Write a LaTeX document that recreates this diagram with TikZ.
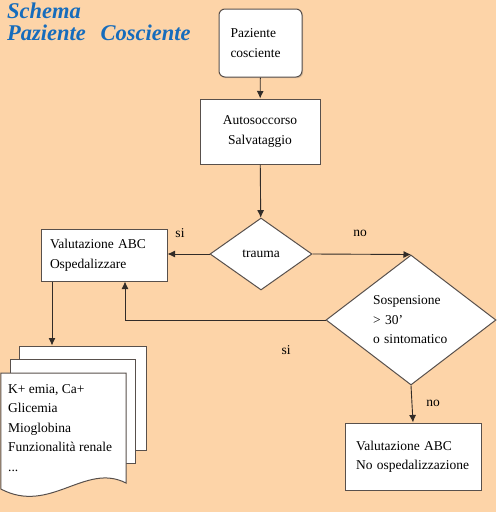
\documentclass[tikz,border=0pt]{standalone}
\usepackage{fontspec}
\setmainfont{Liberation Serif}
\usetikzlibrary{shapes.geometric,arrows.meta,shadows}
\definecolor{peach}{RGB}{253,212,168}
\definecolor{titleblue}{RGB}{22,108,188}
\definecolor{edge}{RGB}{88,80,76}
\definecolor{wire}{RGB}{50,44,40}

\begin{document}
\begin{tikzpicture}[x=1pt,y=-1pt,
    font=\fontsize{13.5}{19.5}\selectfont,
    box/.style={draw=edge, line width=1pt, fill=white, inner sep=0pt,
        drop shadow={shadow xshift=1.2pt, shadow yshift=-1.2pt, opacity=0.3}},
    choice/.style={diamond, draw=edge, line width=1pt, fill=white, inner sep=0pt},
    sheet/.style={draw=edge, line width=1pt, fill=white},
    title/.style={anchor=base west, inner sep=0pt, text=titleblue,
        font=\fontsize{22.5}{22.5}\selectfont\bfseries\itshape},
    arrow/.style={draw=wire, line width=0.9pt, -{Latex[length=7.5pt,width=7pt]}}]

    \fill[peach] (0,0) rectangle (496,512);
    \useasboundingbox (0,0) rectangle (496,512);

    % titolo
    \node[title] (schema) at (7,18.5) {Schema};
    \node[title] (patient) at (7,40) {Paziente\hspace{0.65em}Cosciente};

    % blocchi
    \node[box, rounded corners=6pt, minimum width=83pt, minimum height=68pt,
        text width=60pt, align=left] (start) at (260.5,43) {Paziente\\cosciente\\[4pt]};
    \node[box, minimum width=120pt, minimum height=65pt, align=center]
        (rescue) at (260,131.5) {Autosoccorso\\Salvataggio};
    \node[choice, minimum width=102pt, minimum height=72pt] (trauma) at (261,254) {trauma};
    \node[box, minimum width=126pt, minimum height=52pt, text width=108pt, align=left]
        (abc) at (104,255) {Valutazione ABC\\Ospedalizzare};
    \node[choice, aspect=1.3, minimum width=170pt, minimum height=130pt,
        text width=76pt, align=left] (susp) at (411,320) {Sospensione\\> 30'\\o sintomatico};
    \node[box, minimum width=136pt, minimum height=67pt, text width=114pt, align=left]
        (noosp) at (413,456.5) {Valutazione ABC\\No ospedalizzazione};

    % esami (fogli)
    \node[sheet, minimum width=127pt, minimum height=104pt] (sheetback) at (82.5,398) {};
    \node[sheet, minimum width=125pt, minimum height=104pt] (sheetmid) at (72.5,411) {};
    \draw[sheet] (0.8,373) -- (126,373) -- (126,483)
        .. controls (85,462) and (50,515) .. (0.8,489) -- cycle;
    \node[anchor=north west, align=left, inner sep=0pt] (tests) at (8,384)
        {K+ emia, Ca+\\Glicemia\\Mioglobina\\Funzionalità renale\\...};

    % collegamenti
    \draw[arrow] (start) -- (rescue);
    \draw[arrow] (rescue) -- (trauma);
    \draw[arrow] (trauma.west) -- (trauma.west -| abc.east);
    \draw[arrow] (trauma.east) -- (susp.north);
    \draw[arrow] (susp.west) -| ([xshift=21pt]abc.south);
    \draw[arrow] ([xshift=-52pt]abc.south) -- ([xshift=-52pt]abc.south |- sheetback.north);
    \draw[arrow] (susp.south) -- (noosp.north);

    % etichette
    \node (yes1) at (180,233) {si};
    \node (no1) at (360,233) {no};
    \node (yes2) at (286,350) {si};
    \node (no2) at (433,403) {no};
\end{tikzpicture}
\end{document}
